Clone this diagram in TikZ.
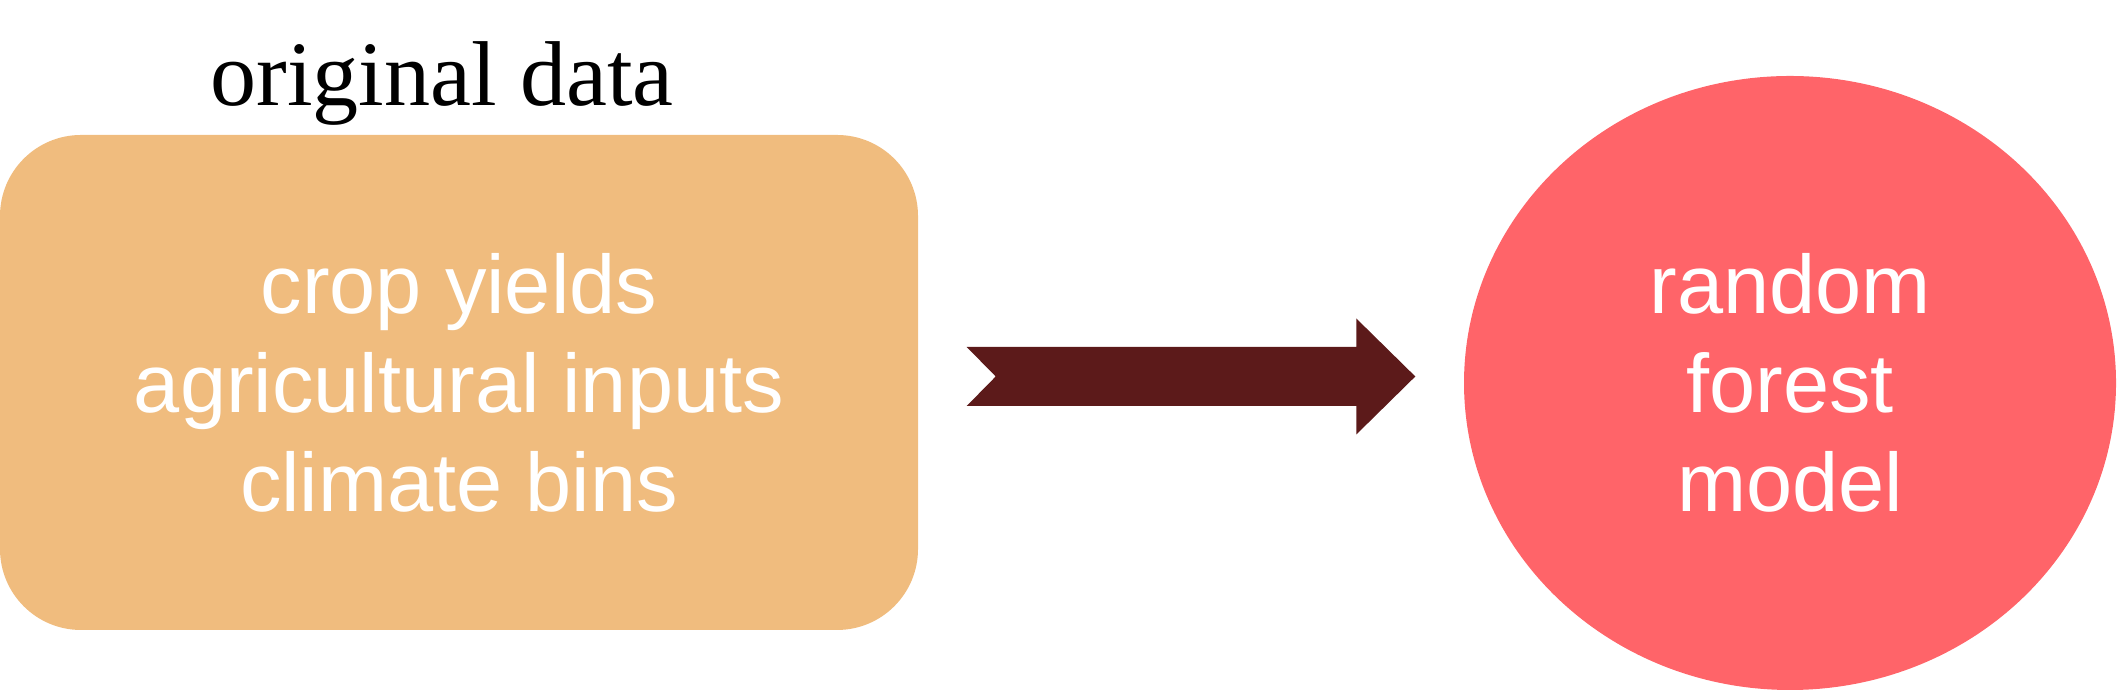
\documentclass[tikz,border=0pt]{standalone}
\usepackage{fontspec}
\setmainfont{Liberation Serif}
\newfontfamily\arialfont{Liberation Sans}
\usetikzlibrary{shapes.geometric}

\definecolor{boxorange}{RGB}{240,188,126}
\definecolor{modelred}{RGB}{255,100,105}
\definecolor{arrowbrown}{RGB}{92,26,26}

\tikzset{
    whitetext/.style={
        text=white,
        align=center,
        inner sep=0pt,
        font=\arialfont\fontsize{23.6}{28.2}\selectfont
    }
}

\begin{document}
\begin{tikzpicture}

\useasboundingbox (0,0) rectangle (21.17,6.91);

\node[
    whitetext,
    fill=boxorange,
    rounded corners=0.81cm,
    minimum width=9.18cm,
    minimum height=4.95cm
] (data) at (4.59,3.085)
{crop yields\\
 agricultural inputs\\
 climate bins};

\node[
    anchor=base,
    inner sep=0pt,
    font=\fontsize{26.2}{31}\selectfont
] (title) at (4.42,5.85)
{original data};

\node[
    whitetext,
    ellipse,
    fill=modelred,
    minimum width=6.52cm,
    minimum height=6.14cm
] (model) at (17.90,3.08)
{random\\
 forest\\
 model};

% block arrow between the two
\coordinate (tail) at ([xshift=0.48cm,yshift=0.06cm]data.east);
\path (model.west |- tail) ++(-0.48,0) coordinate (tip);

\fill[arrowbrown]
    ([yshift=0.295cm]tail)
    -- ([xshift=-0.59cm,yshift=0.295cm]tip)
    -- ([xshift=-0.59cm,yshift=0.58cm]tip)
    -- (tip)
    -- ([xshift=-0.59cm,yshift=-0.58cm]tip)
    -- ([xshift=-0.59cm,yshift=-0.295cm]tip)
    -- ([yshift=-0.295cm]tail)
    -- ([xshift=0.29cm]tail)
    -- cycle;

\end{tikzpicture}
\end{document}
